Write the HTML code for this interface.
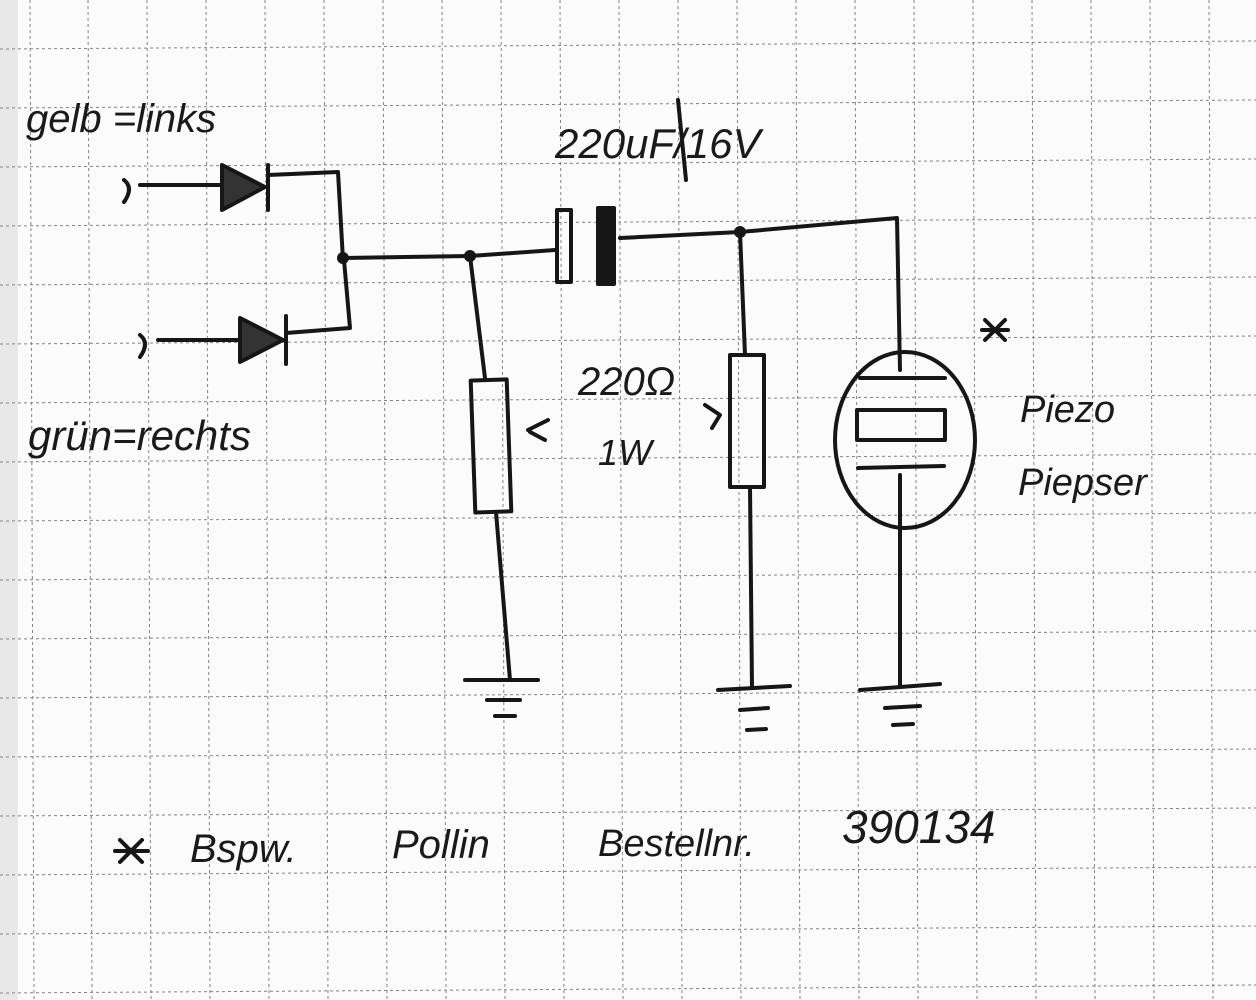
<!DOCTYPE html>
<html><head><meta charset="utf-8"><style>
html,body{margin:0;padding:0;background:#fbfbfb;}
svg{display:block}
text{font-family:"Liberation Sans",sans-serif;fill:#1a1a1a;}
</style></head><body>
<svg width="1256" height="1000" viewBox="0 0 1256 1000" xmlns="http://www.w3.org/2000/svg">
<rect width="1256" height="1000" fill="#fbfbfb"/>
<rect x="0" y="0" width="18" height="1000" fill="#e8e8e8"/>
<g stroke="#8a8080" stroke-width="1" stroke-dasharray="3,3">
<line x1="30" y1="0" x2="34" y2="1000"/><line x1="88" y1="0" x2="92" y2="1000"/>
<line x1="147" y1="0" x2="151" y2="1000"/><line x1="206" y1="0" x2="210" y2="1000"/>
<line x1="265" y1="0" x2="269" y2="1000"/><line x1="324" y1="0" x2="328" y2="1000"/>
<line x1="383" y1="0" x2="387" y2="1000"/><line x1="442" y1="0" x2="446" y2="1000"/>
<line x1="501" y1="0" x2="505" y2="1000"/><line x1="560" y1="0" x2="564" y2="1000"/>
<line x1="619" y1="0" x2="623" y2="1000"/><line x1="678" y1="0" x2="682" y2="1000"/>
<line x1="737" y1="0" x2="741" y2="1000"/><line x1="796" y1="0" x2="800" y2="1000"/>
<line x1="855" y1="0" x2="859" y2="1000"/><line x1="914" y1="0" x2="918" y2="1000"/>
<line x1="973" y1="0" x2="977" y2="1000"/><line x1="1032" y1="0" x2="1036" y2="1000"/>
<line x1="1091" y1="0" x2="1095" y2="1000"/><line x1="1150" y1="0" x2="1154" y2="1000"/>
<line x1="1209" y1="0" x2="1213" y2="1000"/>
<line x1="0" y1="49" x2="1256" y2="41"/><line x1="0" y1="108" x2="1256" y2="100"/>
<line x1="0" y1="167" x2="1256" y2="159"/><line x1="0" y1="226" x2="1256" y2="218"/>
<line x1="0" y1="285" x2="1256" y2="277"/><line x1="0" y1="344" x2="1256" y2="336"/>
<line x1="0" y1="403" x2="1256" y2="395"/><line x1="0" y1="462" x2="1256" y2="454"/>
<line x1="0" y1="521" x2="1256" y2="513"/><line x1="0" y1="580" x2="1256" y2="572"/>
<line x1="0" y1="639" x2="1256" y2="631"/><line x1="0" y1="698" x2="1256" y2="690"/>
<line x1="0" y1="757" x2="1256" y2="749"/><line x1="0" y1="816" x2="1256" y2="808"/>
<line x1="0" y1="875" x2="1256" y2="867"/><line x1="0" y1="934" x2="1256" y2="926"/>
<line x1="0" y1="993" x2="1256" y2="985"/>
</g>
<g stroke="#161616" stroke-width="4" fill="none" stroke-linecap="round" stroke-linejoin="round">
<!-- top input + diode -->
<path d="M124 180 Q134 188 124 202"/>
<path d="M140 185 L220 185"/>
<path d="M222 165 L222 210 L265 187 Z" fill="#333"/>
<path d="M268 165 L268 210"/>
<path d="M268 175 L338 172 L343 260"/>
<!-- bottom input + diode -->
<path d="M140 335 Q150 343 140 357"/>
<path d="M158 340 L238 340"/>
<path d="M240 318 L240 362 L283 340 Z" fill="#333"/>
<path d="M286 316 L286 364"/>
<path d="M286 333 L350 328 L344 260"/>
<!-- main line -->
<path d="M343 258 L470 256 L555 250"/>
<circle cx="343" cy="258" r="4" fill="#161616"/>
<circle cx="470" cy="256" r="4" fill="#161616"/>
<!-- capacitor -->
<rect x="557" y="210" width="14" height="72"/>
<rect x="598" y="208" width="16" height="76" fill="#161616"/>
<path d="M620 238 L740 232 L897 218 L900 370"/>
<circle cx="740" cy="232" r="4" fill="#161616"/>
<!-- left resistor -->
<path d="M470 256 L485 378"/>
<rect x="473" y="380" width="36" height="132" transform="rotate(-2 490 446)"/>
<path d="M496 512 L510 680"/>
<path d="M465 680 L538 680 M487 700 L520 700 M495 716 L515 716"/>
<!-- right resistor -->
<path d="M740 232 L745 355"/>
<rect x="730" y="355" width="34" height="132"/>
<path d="M750 487 L752 688"/>
<path d="M718 690 L790 686 M740 710 L768 708 M747 730 L766 729"/>
<!-- piezo -->
<ellipse cx="905" cy="440" rx="70" ry="88"/>
<path d="M860 378 L945 378"/>
<rect x="857" y="410" width="88" height="30"/>
<path d="M858 468 L944 466"/>
<path d="M900 475 L900 686"/>
<path d="M860 690 L940 684 M885 708 L920 706 M893 725 L913 724"/>
<!-- misc marks -->
<path d="M678 100 L686 180"/>
<path d="M528 430 L548 420 M530 432 L545 440"/>
<path d="M705 405 L720 415 L712 428"/>
<path d="M120 840 L142 862 M142 840 L120 862 M115 851 L148 851"/>
<path d="M985 320 L1005 340 M1005 320 L985 340 M982 330 L1008 330"/>
</g>
<g font-size="44" font-style="italic">
<text x="26" y="132" font-size="40">gelb =links</text>
<text x="28" y="450" font-size="42">grün=rechts</text>
<text x="555" y="158" font-size="42">220uF/16V</text>
<text x="578" y="395" font-size="40">220Ω</text>
<text x="598" y="465" font-size="36">1W</text>
<text x="1020" y="422" font-size="38">Piezo</text>
<text x="1018" y="495" font-size="38">Piepser</text>
<text x="190" y="862" font-size="40">Bspw.</text>
<text x="392" y="858" font-size="40">Pollin</text>
<text x="598" y="856" font-size="38">Bestellnr.</text>
<text x="842" y="843" font-size="46">390134</text>
</g>
</svg>
</body></html>
